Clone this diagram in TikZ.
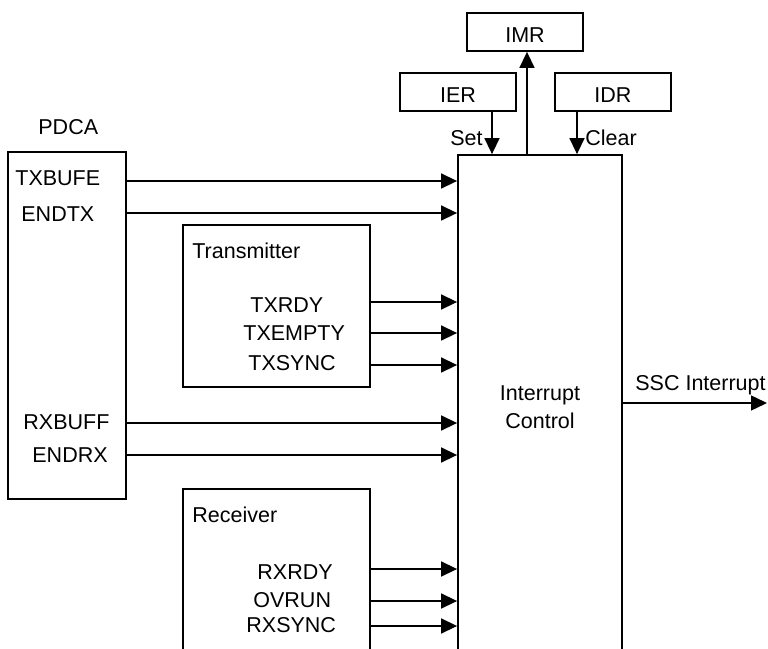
\documentclass[tikz,border=0pt]{standalone}
\usepackage{fontspec}
\setmainfont{Liberation Sans}
\usetikzlibrary{arrows.meta}
\begin{document}
\begin{tikzpicture}[x=0.5pt,y=-0.5pt,
  font=\fontsize{10.75pt}{13pt}\selectfont,
  box/.style={draw,line width=0.9pt,inner sep=0pt},
  regbox/.style={box,minimum width=58pt,minimum height=19pt,text height=10.5pt,text depth=0pt},
  lbl/.style={anchor=base west,inner sep=0pt},
  arr/.style={line width=0.75pt,-{Triangle[length=8pt,width=7.5pt]}}]
\clip (0,0) rectangle (768,649);
% boxes
\node[box,minimum width=59pt,minimum height=173.5pt] (pdca) at (67,325.5) {};
\node[box,minimum width=93.5pt,minimum height=81pt] (tx) at (276.5,306) {};
\node[box,minimum width=93.5pt,minimum height=105.5pt] (rx) at (276.5,594.5) {};
\node[box,minimum width=82pt,minimum height=272.5pt] (ic) at (540,427.5) {};
\node[regbox] (imr) at (525,32) {IMR};
\node[regbox] (ier) at (458,92) {IER};
\node[regbox] (idr) at (613,92) {IDR};
% labels
\node[lbl] (lpdca) at (38,134) {PDCA};
\node[lbl] (ltxbufe) at (15,185) {TXBUFE};
\node[lbl] (lendtx) at (21,221) {ENDTX};
\node[lbl] (lrxbuff) at (23,429) {RXBUFF};
\node[lbl] (lendrx) at (32,462) {ENDRX};
\node[lbl] (ltx) at (192,258) {Transmitter};
\node[lbl] (ltxrdy) at (250,312) {TXRDY};
\node[lbl] (ltxempty) at (243,340) {TXEMPTY};
\node[lbl] (ltxsync) at (248,370) {TXSYNC};
\node[lbl] (lrx) at (192,522) {Receiver};
\node[lbl] (lrxrdy) at (257,579) {RXRDY};
\node[lbl] (lovrun) at (253,607) {OVRUN};
\node[lbl] (lrxsync) at (246,632) {RXSYNC};
\node[lbl] (lset) at (450,145) {Set};
\node[lbl] (lclear) at (585,145) {Clear};
\node[lbl] (lssc) at (635,390) {SSC Interrupt};
\node[anchor=base,inner sep=0pt] (lic) at (540,400) {Interrupt};
\node[anchor=base,inner sep=0pt] (lic2) at (540,428) {Control};
% connectors
\draw[arr] (pdca.east |- 0,181) -- (ic.west |- 0,181);
\draw[arr] (pdca.east |- 0,213) -- (ic.west |- 0,213);
\draw[arr] (pdca.east |- 0,423) -- (ic.west |- 0,423);
\draw[arr] (pdca.east |- 0,455) -- (ic.west |- 0,455);
\draw[arr] (tx.east |- 0,302) -- (ic.west |- 0,302);
\draw[arr] (tx.east |- 0,333) -- (ic.west |- 0,333);
\draw[arr] (tx.east |- 0,365) -- (ic.west |- 0,365);
\draw[arr] (rx.east |- 0,569) -- (ic.west |- 0,569);
\draw[arr] (rx.east |- 0,601) -- (ic.west |- 0,601);
\draw[arr] (rx.east |- 0,626) -- (ic.west |- 0,626);
\coordinate (sscend) at (767,403);
\draw[arr] (ic.east |- sscend) -- (sscend);
\draw[arr] (ic.north -| 527,0) -- (imr.south -| 527,0);
\draw[arr] (ier.south -| 492,0) -- (ic.north -| 492,0);
\draw[arr] (idr.south -| 577,0) -- (ic.north -| 577,0);
\end{tikzpicture}
\end{document}
